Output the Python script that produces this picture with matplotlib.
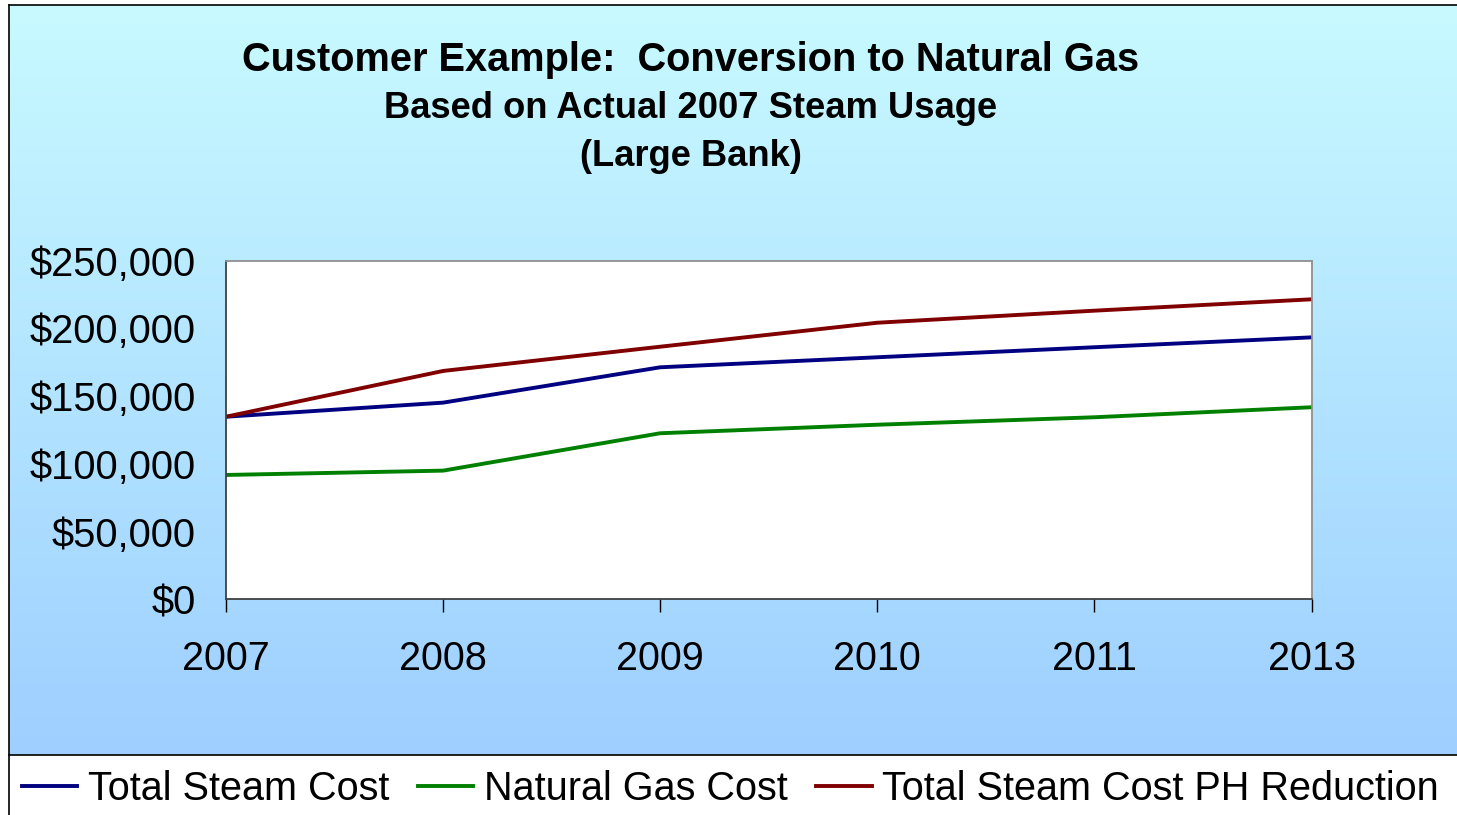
# Customer example chart: steam vs natural gas cost
import numpy as np
import matplotlib.pyplot as plt
from matplotlib.lines import Line2D
from matplotlib.ticker import FuncFormatter

plt.rcParams["font.family"] = ["Liberation Sans", "DejaVu Sans"]

# Data
years = ["2007", "2008", "2009", "2010", "2011", "2013"]
total_steam = [134800, 145200, 171300, 178700, 186100, 193400]
natural_gas = [91800, 95000, 122600, 128900, 134400, 141800]
steam_ph_reduction = [134800, 168600, 186500, 204200, 213100, 221500]

W, H = 1457, 815
fig = plt.figure(figsize=(W / 100, H / 100), dpi=100)
fig.patch.set_facecolor("white")

# Gradient background for the chart area (above the legend strip)
bg = fig.add_axes([9 / W, (H - 755) / H, 1 - 9 / W, 750 / H])
top_col = np.array([200, 250, 255]) / 255
bot_col = np.array([158, 207, 255]) / 255
t = np.linspace(0, 1, 256)[:, None]
grad = top_col * (1 - t) + bot_col * t
bg.imshow(grad[:, None, :].repeat(2, axis=1), aspect="auto", extent=[0, 1, 0, 1])
bg.set_axis_off()

# Border lines
fig.add_artist(Line2D([9 / W, 9 / W], [0, (H - 5) / H], color="black", lw=1.2))
fig.add_artist(Line2D([9 / W, 1], [(H - 5) / H, (H - 5) / H], color="black", lw=1.2))
fig.add_artist(Line2D([9 / W, 1], [(H - 755) / H, (H - 755) / H], color="black", lw=1.2))

# Plot area
ax = fig.add_axes([226 / W, (H - 599.3) / H, (1311.5 - 226) / W, (599.3 - 260.7) / H])
ax.set_facecolor("white")
x = np.arange(len(years))
ax.plot(x, total_steam, color="#000080", lw=2.8, label="Total Steam Cost")
ax.plot(x, natural_gas, color="#008000", lw=2.8, label="Natural Gas Cost")
ax.plot(x, steam_ph_reduction, color="#800000", lw=2.8, label="Total Steam Cost PH Reduction")

ax.set_xlim(0, len(years) - 1)
ax.set_ylim(0, 250000)
ax.set_xticks(x)
ax.set_xticklabels(years)
ax.set_yticks(range(0, 250001, 50000))
ax.yaxis.set_major_formatter(FuncFormatter(lambda v, p: "${:,.0f}".format(v)))
ax.tick_params(axis="x", direction="out", length=9, width=1, labelsize=28.5, pad=20)
ax.tick_params(axis="y", length=0, labelsize=28.7, pad=22)

for side in ["top", "right"]:
    ax.spines[side].set_color("#909090")
for side in ["left", "bottom"]:
    ax.spines[side].set_color("#404040")
for s in ax.spines.values():
    s.set_linewidth(1.3)

# Titles
fig.text(691 / W, 1 - 60 / H, "Customer Example:  Conversion to Natural Gas",
         ha="center", va="center", fontsize=28.6, fontweight="bold")
fig.text(691 / W, 1 - 109 / H, "Based on Actual 2007 Steam Usage",
         ha="center", va="center", fontsize=26.2, fontweight="bold")
fig.text(691 / W, 1 - 156 / H, "(Large Bank)",
         ha="center", va="center", fontsize=26.2, fontweight="bold")

# Legend below the gradient area
handles, labels = ax.get_legend_handles_labels()
fig.legend(handles, labels, loc="center left", bbox_to_anchor=(22 / W, 1 - 789 / H),
           ncol=3, frameon=False, fontsize=28.5, handlelength=1.4, handletextpad=0.27,
           columnspacing=0.72, borderaxespad=0, borderpad=0)

fig.savefig("out.png", dpi=100)
